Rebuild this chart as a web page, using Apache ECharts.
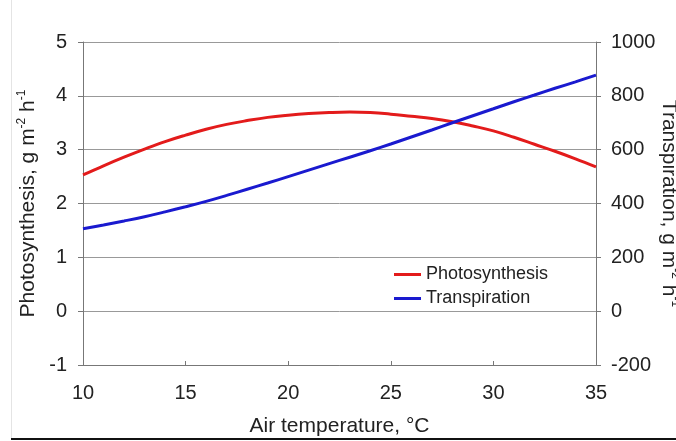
<!DOCTYPE html>
<html>
<head>
<meta charset="utf-8">
<script src="https://cdn.jsdelivr.net/npm/echarts@6/dist/echarts.min.js"></script>
<style>
html,body{margin:0;padding:0;background:#fff;}
#chart{width:676px;height:441px;}
</style>
</head>
<body>
<div id="chart"></div>
<script>
var temps = [10,11,12,13,14,15,16,17,18,19,20,21,22,23,24,25,26,27,28,29,30,31,32,33,34,35];
var photosynthesis = [2.53,2.70,2.86,3.01,3.15,3.27,3.38,3.47,3.54,3.60,3.64,3.67,3.69,3.70,3.69,3.66,3.62,3.58,3.52,3.44,3.35,3.23,3.10,2.97,2.83,2.68];
var transpiration = [306,320,335,351,369,388,408,430,453,476,500,524,548,572,596,621,647,673,700,726,752,778,803,828,852,877];
var xTicks = [10,15,20,25,30,35];
var leftTicks = [-1,0,1,2,3,4,5];
var rightTicks = [-200,0,200,400,600,800,1000];

var FONT = '"Liberation Sans", Arial, sans-serif';
function pairs(xs, ys){ return xs.map(function(x,i){ return [x, ys[i]]; }); }

var chart = echarts.init(document.getElementById('chart'));
chart.setOption({
  backgroundColor: '#fff',
  animation: false,
  textStyle: {fontFamily: FONT},
  grid: {left: 83, right: 80, top: 42, bottom: 76, containLabel: false, outerBoundsMode: 'none'},
  legend: {
    orient: 'vertical',
    left: 389, top: 259,
    itemWidth: 27, itemHeight: 3, itemGap: 3,
    icon: 'rect',
    textStyle: {fontFamily: FONT, fontSize: 18, color: '#222', lineHeight: 21},
    data: ['Photosynthesis','Transpiration']
  },
  xAxis: {
    type: 'value',
    min: xTicks[0], max: xTicks[xTicks.length-1], interval: 5,
    name: 'Air temperature, °C',
    nameLocation: 'middle', nameGap: 51, nameMoveOverlap: false,
    nameTextStyle: {fontFamily: FONT, fontSize: 21, color: '#222'},
    axisLine: {onZero: false, lineStyle: {color: '#777', width: 1}},
    axisTick: {show: true, inside: true, length: 4, lineStyle: {color: '#777'}},
    axisLabel: {fontFamily: FONT, fontSize: 20, color: '#222', margin: 18},
    splitLine: {show: false}
  },
  yAxis: [{
    type: 'value',
    min: leftTicks[0], max: leftTicks[leftTicks.length-1], interval: 1,
    position: 'left',
    name: '{a|Photosynthesis, g m}{s|-2}{a| h}{s|-1}',
    nameLocation: 'middle', nameGap: 42, nameRotate: 90, nameMoveOverlap: false,
    nameTextStyle: {
      rich: {
        a: {fontFamily: FONT, fontSize: 21, color: '#222', lineHeight: 25},
        s: {fontFamily: FONT, fontSize: 12, color: '#222', lineHeight: 13, verticalAlign: 'top'}
      }
    },
    axisLine: {show: true, lineStyle: {color: '#777', width: 1}},
    axisTick: {show: true, length: 5, lineStyle: {color: '#777'}},
    axisLabel: {fontFamily: FONT, fontSize: 20, color: '#222', margin: 16},
    splitLine: {show: true, lineStyle: {color: '#999', width: 1}}
  },{
    type: 'value',
    min: rightTicks[0], max: rightTicks[rightTicks.length-1], interval: 200,
    position: 'right',
    name: '{a|Transpiration, g m}{s|-2}{a| h}{s|-1}',
    nameLocation: 'middle', nameGap: 60, nameRotate: -90, nameMoveOverlap: false,
    nameTextStyle: {
      rich: {
        a: {fontFamily: FONT, fontSize: 21, color: '#222', lineHeight: 25},
        s: {fontFamily: FONT, fontSize: 12, color: '#222', lineHeight: 13, verticalAlign: 'top'}
      }
    },
    axisLine: {show: true, lineStyle: {color: '#777', width: 1}},
    axisTick: {show: true, length: 5, lineStyle: {color: '#777'}},
    axisLabel: {fontFamily: FONT, fontSize: 20, color: '#222', margin: 15, formatter: function(v){ return String(v); }},
    splitLine: {show: false}
  }],
  series: [{
    name: 'Photosynthesis',
    type: 'line', yAxisIndex: 0,
    data: pairs(temps, photosynthesis),
    smooth: 0.4, showSymbol: false,
    lineStyle: {color: '#e31b1b', width: 3},
    itemStyle: {color: '#e31b1b'}
  },{
    name: 'Transpiration',
    type: 'line', yAxisIndex: 1,
    data: pairs(temps, transpiration),
    smooth: 0.4, showSymbol: false,
    lineStyle: {color: '#1a1acf', width: 3},
    itemStyle: {color: '#1a1acf'}
  }],
  graphic: [
    {type: 'line', shape: {x1: 11.5, y1: 0, x2: 11.5, y2: 438}, style: {stroke: '#e4e4e4', lineWidth: 1}, silent: true},
    {type: 'line', shape: {x1: 11, y1: 439, x2: 676, y2: 439}, style: {stroke: '#111', lineWidth: 2}, silent: true}
  ]
});
</script>
</body>
</html>
